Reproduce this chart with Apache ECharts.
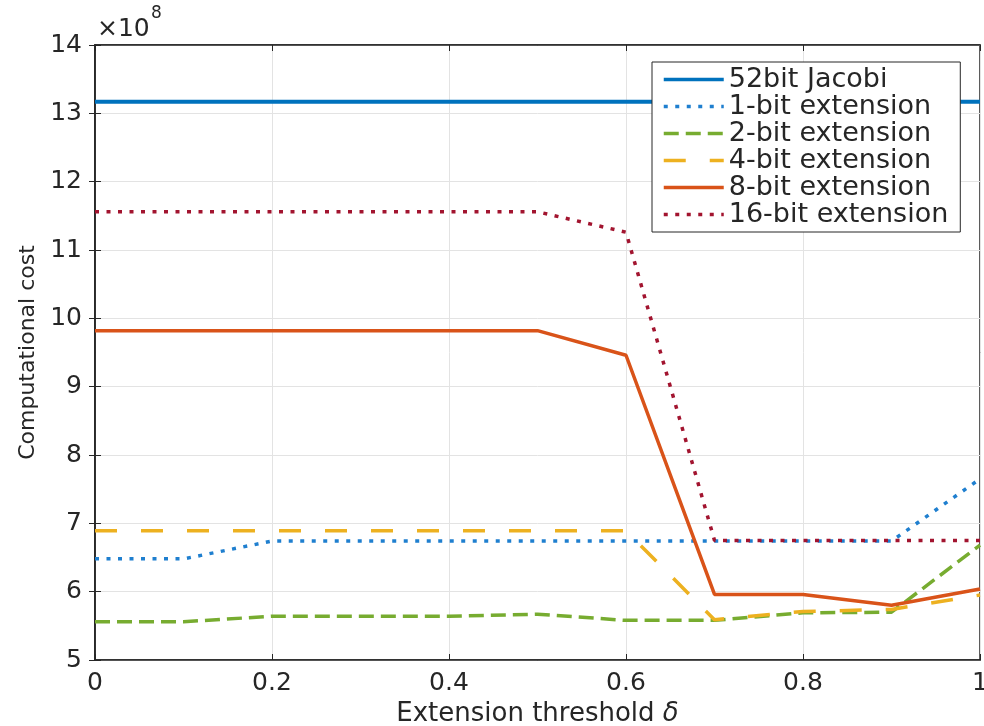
<!DOCTYPE html>
<html><head><meta charset="utf-8">
<script src="https://cdn.jsdelivr.net/npm/echarts@6/dist/echarts.min.js"></script>
<style>html,body{margin:0;padding:0;background:#fff}#c{width:984px;height:726px}</style>
</head><body><div id="c"></div>
<script>
const thresholds = [0, 0.1, 0.2, 0.3, 0.4, 0.5, 0.6, 0.7, 0.8, 0.9, 1.0];
const jacobi52 = [13.17, 13.17, 13.17, 13.17, 13.17, 13.17, 13.17, 13.17, 13.17, 13.17, 13.17];
const ext1 = [6.48, 6.48, 6.74, 6.74, 6.74, 6.74, 6.74, 6.74, 6.74, 6.74, 7.65];
const ext2 = [5.56, 5.56, 5.64, 5.64, 5.64, 5.67, 5.58, 5.58, 5.69, 5.70, 6.68];
const ext4 = [6.89, 6.89, 6.89, 6.89, 6.89, 6.89, 6.89, 5.59, 5.71, 5.74, 5.95];
const ext8 = [9.82, 9.82, 9.82, 9.82, 9.82, 9.82, 9.46, 5.96, 5.96, 5.80, 6.04];
const ext16 = [11.56, 11.56, 11.56, 11.56, 11.56, 11.56, 11.26, 6.75, 6.75, 6.75, 6.75];
const seriesNames = ['52bit Jacobi', '1-bit extension', '2-bit extension', '4-bit extension', '8-bit extension', '16-bit extension'];
const xTickLabels = ['0', '0.2', '0.4', '0.6', '0.8', '1'];
const yTickLabels = ['5', '6', '7', '8', '9', '10', '11', '12', '13', '14'];
const expLabel = '×10';
const expPower = '8';

const FONT = 'DejaVu Sans';
const TXT = '#262626';
const values = [jacobi52, ext1, ext2, ext4, ext8, ext16];
const styles = [
  {color: '#0072BD', width: 4, type: 'solid'},
  {color: '#1f7fcf', width: 3.5, type: [4, 7.5]},
  {color: '#77AC30', width: 3.5, type: [15, 7]},
  {color: '#EDB120', width: 3.5, type: [22, 24]},
  {color: '#D95319', width: 3.5, type: 'solid'},
  {color: '#A2142F', width: 3.5, type: [4, 7.5]}
];

const chart = echarts.init(document.getElementById('c'), null, {renderer: 'canvas'});
const series = values.map((arr, k) => ({
  name: seriesNames[k],
  type: 'line',
  xAxisIndex: 0, yAxisIndex: 0,
  symbol: 'none',
  showSymbol: false,
  silent: true,
  animation: false,
  color: styles[k].color,
  lineStyle: {color: styles[k].color, width: styles[k].width, type: styles[k].type, cap: 'butt'},
  data: arr.map((v, i) => [thresholds[i], v])
}));

const tickStyle = {fontFamily: FONT, fontSize: 25, color: TXT};
chart.setOption({
  animation: false,
  backgroundColor: '#fff',
  grid: {left: 95, right: 4, top: 45, bottom: 66, outerBoundsMode: 'none', containLabel: false,
         show: true, borderColor: TXT, borderWidth: 1.5, backgroundColor: 'transparent'},
  legend: {
    orient: 'vertical', left: 652, top: 62,
    itemWidth: 60, itemHeight: 14, itemGap: 0,
    padding: [4, 12, 4, 10],
    borderColor: TXT, borderWidth: 1, backgroundColor: '#fff',
    itemStyle: {opacity: 0, borderWidth: 0},
    lineStyle: {width: 3.5},
    textStyle: {fontFamily: FONT, fontSize: 27, lineHeight: 27, color: TXT},
    data: seriesNames
  },
  xAxis: [{
    type: 'value', min: 0, max: 1, interval: 0.2, position: 'bottom',
    name: 'Extension threshold {i|δ}', nameLocation: 'middle', nameGap: 37,
    nameTextStyle: {fontFamily: FONT, fontSize: 26, color: TXT, rich: {i: {fontFamily: FONT, fontSize: 26, fontStyle: 'italic', color: TXT}}},
    axisLine: {show: true, lineStyle: {color: TXT, width: 1.5}},
    axisTick: {show: true, inside: true, length: 6, lineStyle: {color: TXT}},
    axisLabel: {margin: 11, ...tickStyle, formatter: (v, i) => xTickLabels[i]},
    splitLine: {show: true, lineStyle: {color: '#e3e3e3', width: 1}}
  }, {
    type: 'value', min: 0, max: 1, interval: 0.2, position: 'top',
    axisLine: {show: true, lineStyle: {color: TXT, width: 1.5}},
    axisTick: {show: true, inside: true, length: 6, lineStyle: {color: TXT}},
    axisLabel: {show: false}, splitLine: {show: false}
  }],
  yAxis: [{
    type: 'value', min: 5, max: 14, interval: 1, position: 'left',
    name: 'Computational cost', nameLocation: 'middle', nameGap: 54,
    nameTextStyle: {fontFamily: FONT, fontSize: 22, color: TXT},
    axisLine: {show: true, lineStyle: {color: TXT, width: 1.5}},
    axisTick: {show: true, inside: true, length: 6, lineStyle: {color: TXT}},
    axisLabel: {margin: 13, ...tickStyle, formatter: (v, i) => yTickLabels[i]},
    splitLine: {show: true, lineStyle: {color: '#e3e3e3', width: 1}}
  }, {
    type: 'value', min: 5, max: 14, interval: 1, position: 'right',
    axisLine: {show: true, lineStyle: {color: TXT, width: 1.5}},
    axisTick: {show: true, inside: true, length: 6, lineStyle: {color: TXT}},
    axisLabel: {show: false}, splitLine: {show: false}
  }],
  graphic: [
    {type: 'text', left: 97, top: 17, style: {text: expLabel, fontFamily: FONT, fontSize: 25, fill: TXT}},
    {type: 'text', left: 151, top: 5, style: {text: expPower, fontFamily: FONT, fontSize: 17, fill: TXT}}
  ],
  series: series
});
</script></body></html>
